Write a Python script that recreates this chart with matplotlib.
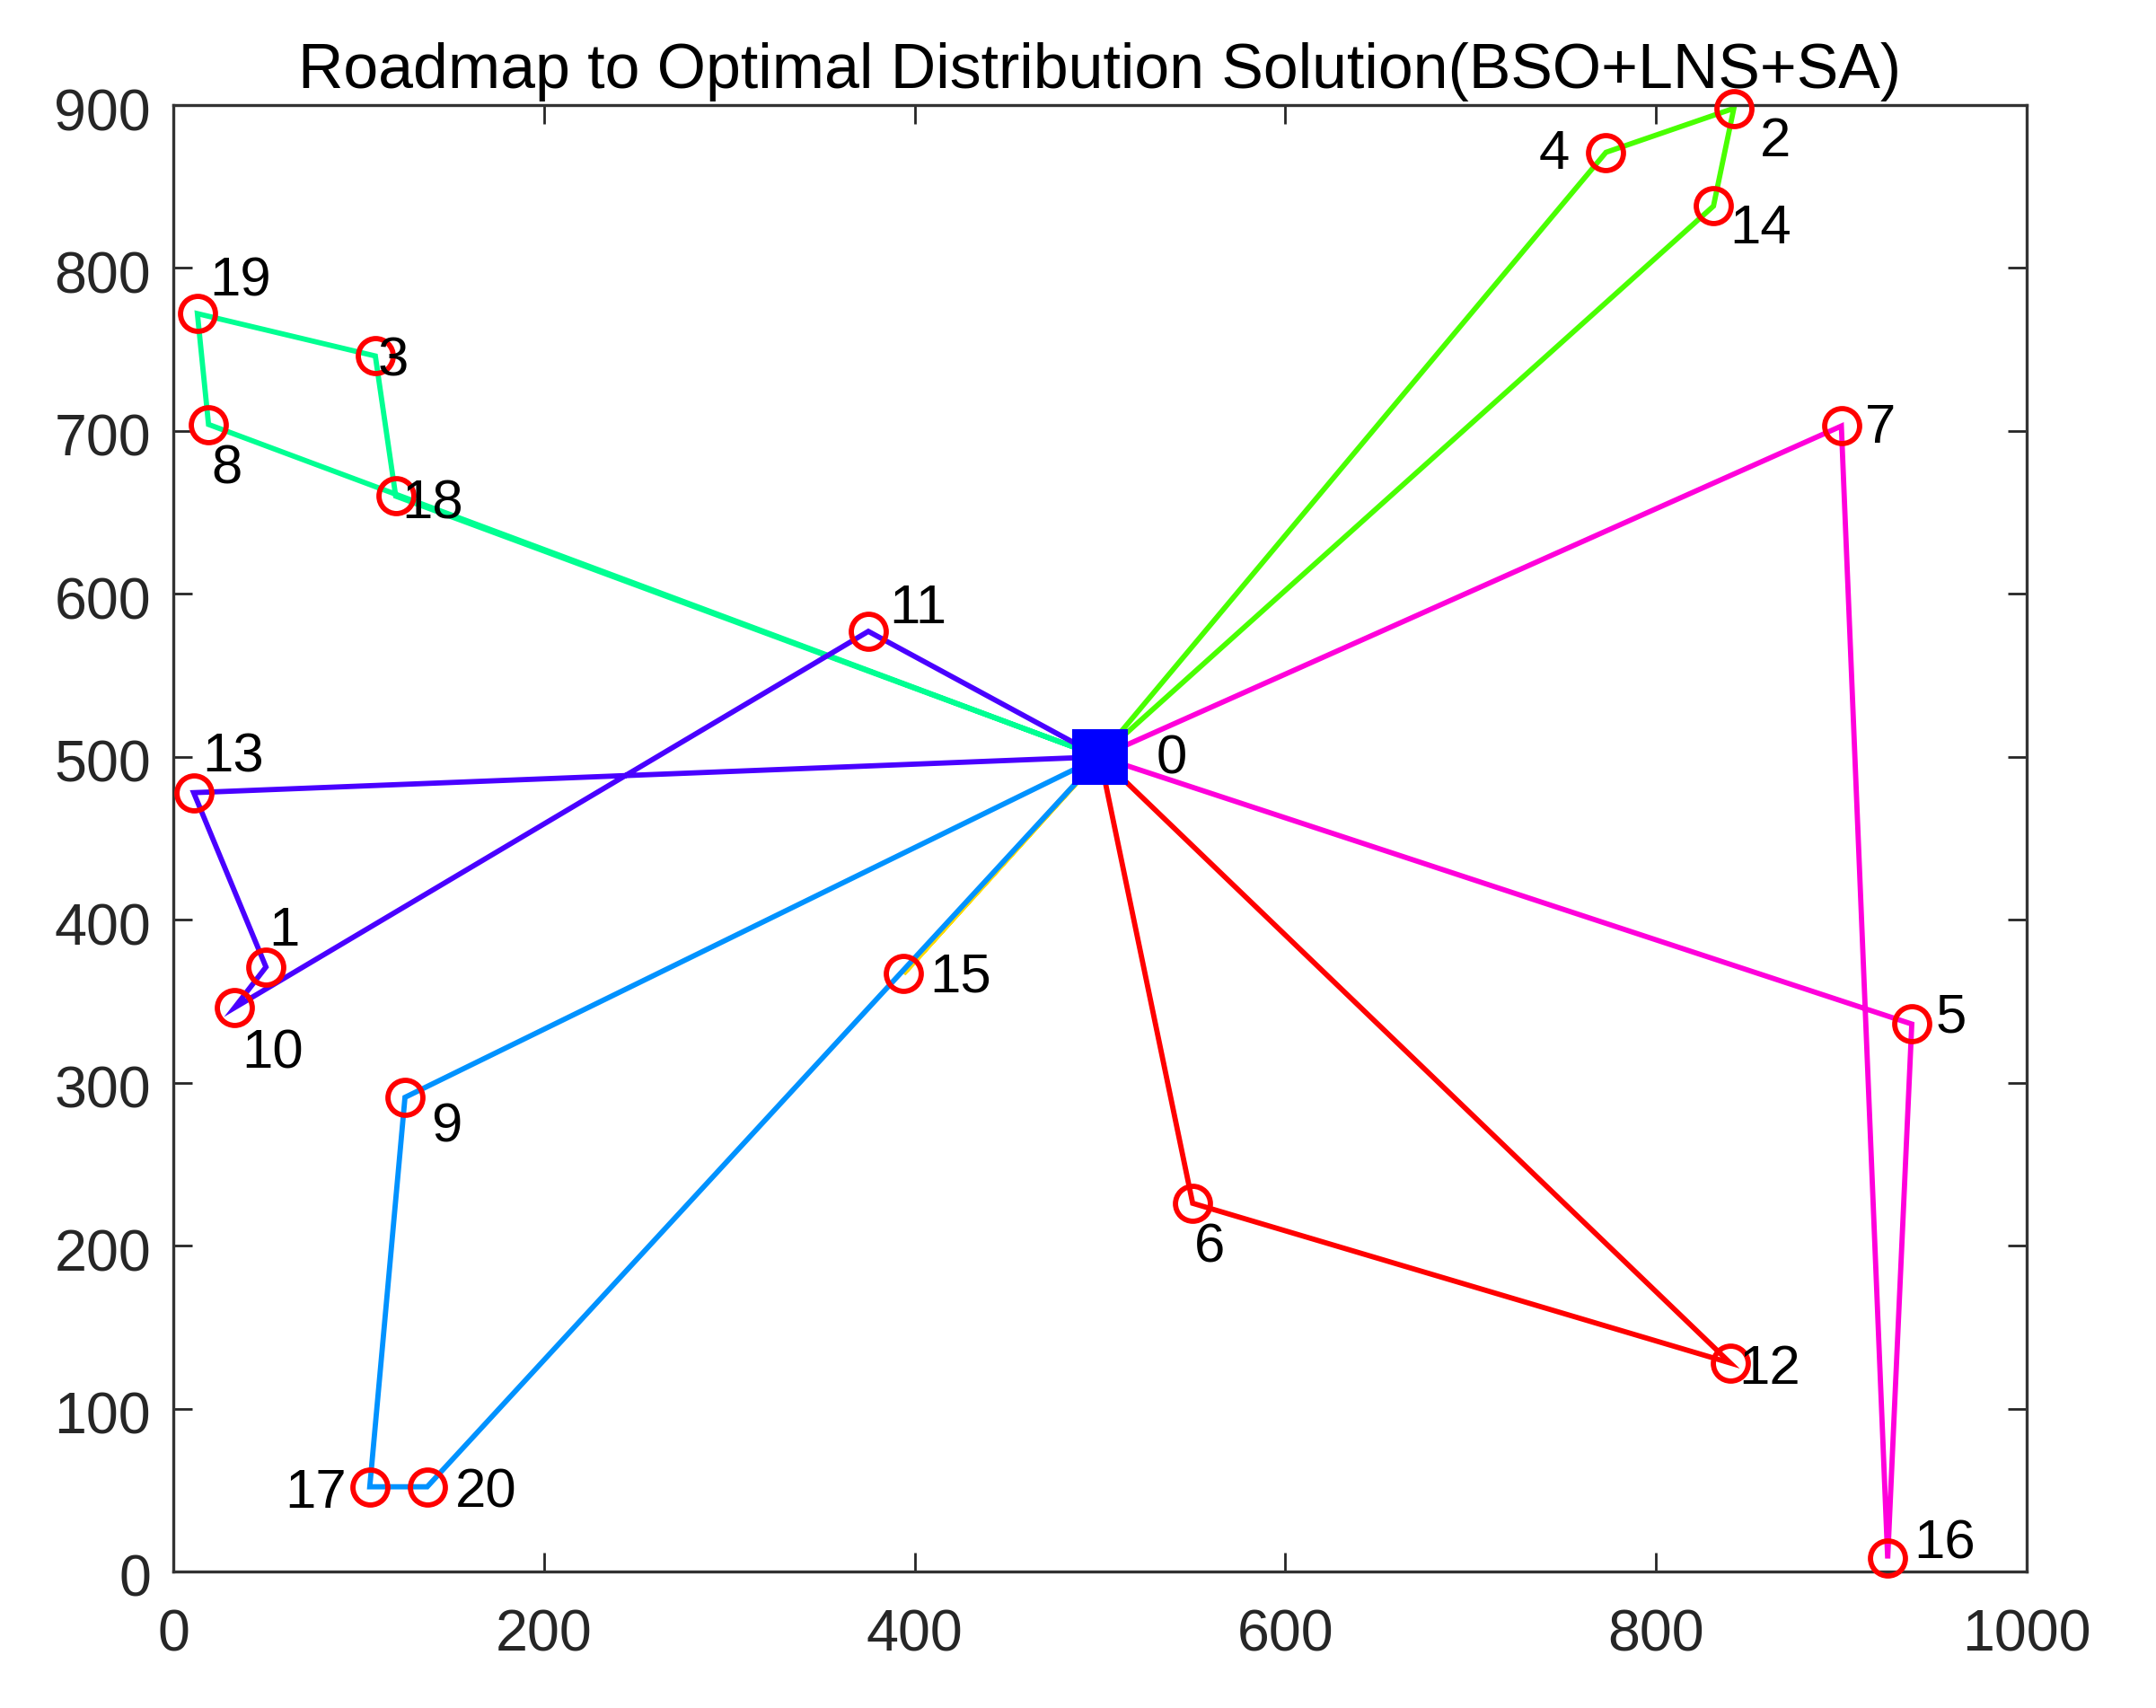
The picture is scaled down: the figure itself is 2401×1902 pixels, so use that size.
import matplotlib
matplotlib.use("Agg")
import matplotlib.pyplot as plt
from matplotlib.transforms import ScaledTranslation

plt.rcParams['font.family'] = ['Liberation Sans', 'DejaVu Sans']

title = "Roadmap to Optimal Distribution Solution(BSO+LNS+SA)"
xs = [500, 50, 842, 109, 773, 938, 550, 900, 19, 125, 33, 375, 840, 11, 831, 394, 925, 106, 120, 13, 137]
ys = [500, 371, 898, 746, 871, 336, 226, 703, 704, 291, 346, 577, 128, 478, 838, 367, 8, 52, 660, 772, 52]
routes = [
    [0, 6, 12, 0],
    [0, 15, 0],
    [0, 4, 2, 14, 0],
    [0, 18, 3, 19, 8, 0],
    [0, 9, 17, 20, 0],
    [0, 11, 10, 1, 13, 0],
    [0, 7, 16, 5, 0],
]
route_colors = ['#FF0000', '#FFDB00', '#49FF00', '#00FF92', '#0092FF', '#4900FF', '#FF00DB']
xticks = [0, 200, 400, 600, 800, 1000]
yticks = [0, 100, 200, 300, 400, 500, 600, 700, 800, 900]

# label offsets in display px of a 1568-wide view
label_dx = [41, 2, 19, 2, -49, 17, 1, 17, 2, 19, 5, 15, 6, 6, 12, 19, 19, -62, 4, 9, 20]
label_dy = [2, -26, 25, 4, 2, -4, 33, 2, 33, 22, 34, -16, 5, -25, 17, 3, -10, 5, 6, -23, 5]

W, H = 2401, 1902
fig = plt.figure(figsize=(W / 100, H / 100), dpi=100)
L, R, T, B = 193, 2257, 117, 1750
ax = fig.add_axes([L / W, 1 - B / H, (R - L) / W, (B - T) / H])

for route, color in zip(routes, route_colors):
    ax.plot([xs[i] for i in route], [ys[i] for i in route], color=color, lw=4.2,
            solid_joinstyle='miter', zorder=2)

ax.plot(xs[1:], ys[1:], ls='none', marker='o', ms=28, mfc='none', mec='#FF0000', mew=4.2,
        clip_on=False, zorder=3)
ax.plot(xs[0], ys[0], ls='none', marker='s', ms=44.5, mfc='#0000FF', mec='#0000FF', mew=0,
        clip_on=False, zorder=4)

k = 1.531 * 0.72
for i in range(len(xs)):
    ax.annotate(str(i), (xs[i], ys[i]), xytext=(label_dx[i] * k, -label_dy[i] * k),
                textcoords='offset points', ha='left', va='center', fontsize=44.5,
                color='black', zorder=5)

ax.set_xlim(0, 1000)
ax.set_ylim(0, 900)
ax.set_xticks(xticks)
ax.set_yticks(yticks)
ax.tick_params(axis='both', which='both', direction='in', top=True, right=True, length=15,
               width=2, color='#262626', labelcolor='#262626', labelsize=46.5)
ax.tick_params(axis='x', pad=30)
ax.tick_params(axis='y', pad=18)
shift = ScaledTranslation(0, -4.5 / 100, fig.dpi_scale_trans)
for lab in ax.get_yticklabels():
    lab.set_transform(lab.get_transform() + shift)
for s in ax.spines.values():
    s.set_linewidth(2.4)
    s.set_color('#333333')
ax.set_title(title, fontsize=50.3, color='black', pad=14)

fig.savefig('out.png', dpi=100, facecolor='white')
